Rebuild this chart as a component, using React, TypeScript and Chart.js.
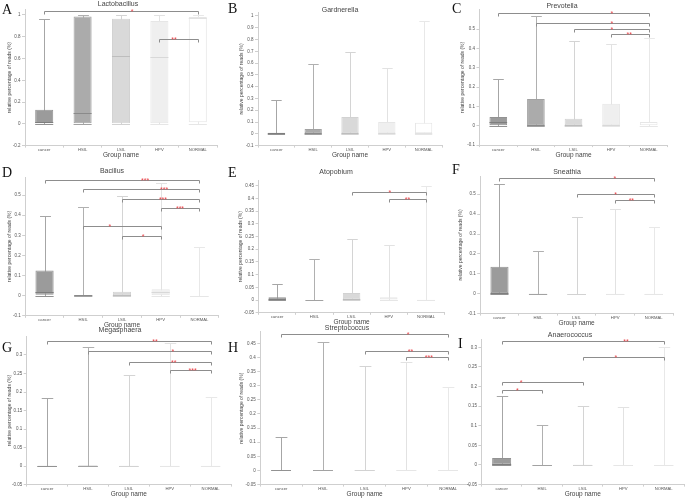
import React, { useEffect, useRef } from "react";
import { Chart, registerables } from "chart.js";
Chart.register(...registerables);

Chart.defaults.font.family = "'Liberation Sans', Arial, sans-serif";
Chart.defaults.color = "#555";

// ---------- data ----------
const groups = ["cancer", "HSIL", "LSIL", "HPV", "NORMAL"];
const lowerWhisker = [0, 0, 0, 0, 0];

const lactobacillusMax = [0.96, 1.0, 1.0, 1.0, 1.0];
const lactobacillusQ3 = [0.13, 0.985, 0.965, 0.945, 0.98];
const lactobacillusMedian = [0.015, 0.1, 0.625, 0.61, 0.975];
const lactobacillusQ1 = [0.0, 0.0, 0.005, 0.005, 0.015];
const lactobacillusTicks = [-0.2, 0, 0.2, 0.4, 0.6, 0.8, 1];

const gardnerellaMax = [0.283, 0.594, 0.693, 0.557, 0.96];
const gardnerellaQ3 = [0.01, 0.04, 0.143, 0.1, 0.093];
const gardnerellaMedian = [0.005, 0.005, 0.005, 0.01, 0.003];
const gardnerellaQ1 = [0, 0, 0, 0, 0];
const gardnerellaTicks = [-0.1, 0, 0.1, 0.2, 0.3, 0.4, 0.5, 0.6, 0.7, 0.8, 0.9, 1];

const prevotellaMax = [0.243, 0.567, 0.438, 0.422, 0.455];
const prevotellaQ3 = [0.045, 0.138, 0.036, 0.114, 0.02];
const prevotellaMedian = [0.017, 0.003, 0.005, 0.003, 0.001];
const prevotellaQ1 = [0.002, 0, 0, 0, 0];
const prevotellaTicks = [-0.1, 0, 0.1, 0.2, 0.3, 0.4, 0.5];

const bacillusMax = [0.397, 0.442, 0.495, 0.558, 0.24];
const bacillusQ3 = [0.125, 0.003, 0.019, 0.032, 0.002];
const bacillusMedian = [0.016, 0.001, 0.005, 0.016, 0];
const bacillusQ1 = [0.005, 0, 0, 0.002, 0];
const bacillusTicks = [-0.1, 0, 0.1, 0.2, 0.3, 0.4, 0.5];

const atopobiumMax = [0.062, 0.16, 0.239, 0.215, 0.45];
const atopobiumQ3 = [0.011, 0.002, 0.028, 0.011, 0.001];
const atopobiumMedian = [0.005, 0, 0.003, 0.002, 0];
const atopobiumQ1 = [0, 0, 0.001, 0, 0];
const atopobiumTicks = [-0.05, 0, 0.05, 0.1, 0.15, 0.2, 0.25, 0.3, 0.35, 0.4, 0.45];

const sneathiaMax = [0.553, 0.217, 0.385, 0.428, 0.336];
const sneathiaQ3 = [0.136, 0.001, 0.002, 0.001, 0.001];
const sneathiaMedian = [0.002, 0, 0, 0, 0];
const sneathiaQ1 = [0, 0, 0, 0, 0];
const sneathiaTicks = [-0.1, 0, 0.1, 0.2, 0.3, 0.4, 0.5];

const megasphaeraMax = [0.184, 0.321, 0.245, 0.331, 0.186];
const megasphaeraQ3 = [0.001, 0.003, 0.001, 0.001, 0.001];
const megasphaeraMedian = [0, 0.001, 0, 0, 0];
const megasphaeraQ1 = [0, 0, 0, 0, 0];
const megasphaeraTicks = [-0.05, 0, 0.05, 0.1, 0.15, 0.2, 0.25, 0.3];

const streptococcusMax = [0.12, 0.456, 0.37, 0.385, 0.295];
const streptococcusQ3 = [0.002, 0.001, 0.002, 0.001, 0.001];
const streptococcusMedian = [0, 0, 0, 0, 0];
const streptococcusQ1 = [0, 0, 0, 0, 0];
const streptococcusTicks = [-0.05, 0, 0.05, 0.1, 0.15, 0.2, 0.25, 0.3, 0.35, 0.4, 0.45];

const anaerococcusMax = [0.176, 0.103, 0.15, 0.149, 0.3];
const anaerococcusQ3 = [0.018, 0.001, 0.002, 0.001, 0.001];
const anaerococcusMedian = [0.003, 0, 0, 0, 0];
const anaerococcusQ1 = [0, 0, 0, 0, 0];
const anaerococcusTicks = [-0.05, 0, 0.05, 0.1, 0.15, 0.2, 0.25, 0.3];

// significance brackets: [fromGroup, toGroup, value, stars, starPosition(in group units)]
const lactobacillusSig = [[0, 4, 1.037, "*", 2.29], [3, 4, 0.78, "**", 3.38]];
const gardnerellaSig: any[] = [];
const prevotellaSig = [[0, 4, 0.581, "*", 3.02], [1, 4, 0.529, "*", 3.02], [2, 4, 0.498, "*", 3.02], [3, 4, 0.472, "**", 3.48]];
const bacillusSig = [[0, 4, 0.575, "***", 2.6], [1, 4, 0.528, "***", 3.09], [2, 4, 0.479, "***", 3.06], [3, 4, 0.437, "***", 3.5], [1, 3, 0.347, "*", 1.69], [2, 3, 0.296, "*", 2.55]];
const atopobiumSig = [[2, 4, 0.426, "*", 3.03], [3, 4, 0.399, "**", 3.5]];
const sneathiaSig = [[0, 4, 0.58, "*", 2.99], [2, 4, 0.5, "*", 3.01], [3, 4, 0.473, "**", 3.42]];
const megasphaeraSig = [[0, 4, 0.338, "**", 2.64], [1, 4, 0.31, "*", 3.08], [2, 4, 0.281, "**", 3.1], [3, 4, 0.259, "***", 3.56]];
const streptococcusSig = [[0, 4, 0.483, "*", 3.04], [2, 4, 0.423, "**", 3.1], [3, 4, 0.402, "***", 3.54]];
const anaerococcusSig = [[0, 4, 0.317, "**", 3.07], [2, 4, 0.275, "*", 2.82], [0, 2, 0.211, "*", 0.48], [0, 1, 0.19, "*", 0.39]];

// ---------- styles ----------
const boxFill = ["#9b9b9b", "#ababab", "#d9d9d9", "#efefef", "#ffffff"];
const boxLine = ["#929292", "#a2a2a2", "#d2d2d2", "#e6e6e6", "#e6e6e6"];
const whiskerColor = ["#a6a6a6", "#b0b0b0", "#d4d4d4", "#e2e2e2", "#e8e8e8"];
const medianColor = ["#7e7e7e", "#8a8a8a", "#bdbdbd", "#d8d8d8", "#e2e2e2"];

type Spec = {
  letter: string; title: string; titleX: number; titleY: number; letterX: number; letterY: number;
  L: number; R: number; B: number; ppu: number; yMin: number; yMax: number; yTitleX: number | null; xTitleY: number;
  q1: number[]; median: number[]; q3: number[]; max: number[]; ticks: number[]; sig: any[];
};

const panels: Spec[] = [
  { letter: "A", title: "Lactobacillus", titleX: 118, titleY: 3, letterX: 2, letterY: 3, L: 25, R: 217, B: 146, ppu: 109.2, yMin: -0.2, yMax: 1.05, yTitleX: 10, xTitleY: 155.5,
    q1: lactobacillusQ1, median: lactobacillusMedian, q3: lactobacillusQ3, max: lactobacillusMax, ticks: lactobacillusTicks, sig: lactobacillusSig },
  { letter: "B", title: "Gardnerella", titleX: 340, titleY: 9, letterX: 228, letterY: 2, L: 258, R: 442, B: 146, ppu: 118.2, yMin: -0.1, yMax: 1.03, yTitleX: 242, xTitleY: 155.5,
    q1: gardnerellaQ1, median: gardnerellaMedian, q3: gardnerellaQ3, max: gardnerellaMax, ticks: gardnerellaTicks, sig: gardnerellaSig },
  { letter: "C", title: "Prevotella", titleX: 562, titleY: 5, letterX: 452, letterY: 2, L: 479.5, R: 667.5, B: 145, ppu: 193.3, yMin: -0.1, yMax: 0.6, yTitleX: 463, xTitleY: 155,
    q1: prevotellaQ1, median: prevotellaMedian, q3: prevotellaQ3, max: prevotellaMax, ticks: prevotellaTicks, sig: prevotellaSig },
  { letter: "D", title: "Bacillus", titleX: 112, titleY: 170, letterX: 2, letterY: 166, L: 25.2, R: 218.7, B: 315.7, ppu: 201, yMin: -0.1, yMax: 0.59, yTitleX: 10, xTitleY: 325,
    q1: bacillusQ1, median: bacillusMedian, q3: bacillusQ3, max: bacillusMax, ticks: bacillusTicks, sig: bacillusSig },
  { letter: "E", title: "Atopobium", titleX: 336, titleY: 171, letterX: 228, letterY: 166, L: 258.6, R: 444.6, B: 312.7, ppu: 254, yMin: -0.05, yMax: 0.47, yTitleX: 241, xTitleY: 322,
    q1: atopobiumQ1, median: atopobiumMedian, q3: atopobiumQ3, max: atopobiumMax, ticks: atopobiumTicks, sig: atopobiumSig },
  { letter: "F", title: "Sneathia", titleX: 567, titleY: 171, letterX: 452, letterY: 163, L: 480.2, R: 673, B: 314, ppu: 199.5, yMin: -0.1, yMax: 0.59, yTitleX: 461, xTitleY: 323.5,
    q1: sneathiaQ1, median: sneathiaMedian, q3: sneathiaQ3, max: sneathiaMax, ticks: sneathiaTicks, sig: sneathiaSig },
  { letter: "G", title: "Megasphaera", titleX: 120, titleY: 329, letterX: 2, letterY: 341, L: 26.7, R: 231, B: 485, ppu: 371.4, yMin: -0.05, yMax: 0.35, yTitleX: 10, xTitleY: 494.5,
    q1: megasphaeraQ1, median: megasphaeraMedian, q3: megasphaeraQ3, max: megasphaeraMax, ticks: megasphaeraTicks, sig: megasphaeraSig },
  { letter: "H", title: "Streptococcus", titleX: 347, titleY: 327, letterX: 228, letterY: 341, L: 260.3, R: 469, B: 485, ppu: 283.4, yMin: -0.05, yMax: 0.49, yTitleX: 242, xTitleY: 494.5,
    q1: streptococcusQ1, median: streptococcusMedian, q3: streptococcusQ3, max: streptococcusMax, ticks: streptococcusTicks, sig: streptococcusSig },
  { letter: "I", title: "Anaerococcus", titleX: 570, titleY: 334, letterX: 458, letterY: 337, L: 481.4, R: 684, B: 485, ppu: 393.4, yMin: -0.05, yMax: 0.32, yTitleX: null, xTitleY: 494.5,
    q1: anaerococcusQ1, median: anaerococcusMedian, q3: anaerococcusQ3, max: anaerococcusMax, ticks: anaerococcusTicks, sig: anaerococcusSig },
];

const boxPlotPlugin = {
  id: "boxPlot",
  beforeDatasetsDraw(chart: any) {
    const o = chart.options.plugins.boxPlot;
    if (!o) return;
    const meta = chart.getDatasetMeta(0);
    const y = chart.scales.y;
    const ctx = chart.ctx;
    ctx.save();
    ctx.lineWidth = 1;
    meta.data.forEach((el: any, i: number) => {
      const x = Math.round(el.x) + 0.5;
      const w = el.width;
      const yLo = Math.round(y.getPixelForValue(o.min[i])) + 0.5;
      const yHi = Math.round(y.getPixelForValue(o.max[i])) + 0.5;
      ctx.strokeStyle = whiskerColor[i];
      ctx.beginPath();
      ctx.moveTo(x, yLo);
      ctx.lineTo(x, yHi);
      ctx.moveTo(x - w * 0.3, yHi);
      ctx.lineTo(x + w * 0.3, yHi);
      ctx.stroke();
    });
    ctx.restore();
  },
  afterDatasetsDraw(chart: any) {
    const o = chart.options.plugins.boxPlot;
    if (!o) return;
    const meta = chart.getDatasetMeta(0);
    const y = chart.scales.y;
    const xs = chart.scales.x;
    const ctx = chart.ctx;
    ctx.save();
    meta.data.forEach((el: any, i: number) => {
      const w = el.width;
      const ym = Math.round(y.getPixelForValue(o.median[i])) + 0.5;
      ctx.strokeStyle = medianColor[i];
      ctx.lineWidth = 1;
      ctx.beginPath();
      ctx.moveTo(el.x - w / 2, ym);
      ctx.lineTo(el.x + w / 2, ym);
      ctx.stroke();
      const yLo = Math.round(y.getPixelForValue(o.min[i])) + 0.5;
      ctx.strokeStyle = boxLine[i];
      ctx.beginPath();
      ctx.moveTo(el.x - w / 2, yLo);
      ctx.lineTo(el.x + w / 2, yLo);
      ctx.stroke();
    });
    // brackets
    o.sig.forEach((s: any) => {
      const [a, b, v, stars, pos] = s;
      const x1 = Math.round(xs.getPixelForValue(a)) + 0.5;
      const x2 = Math.round(xs.getPixelForValue(b)) + 0.5;
      const yy = Math.round(y.getPixelForValue(v)) + 0.5;
      ctx.strokeStyle = "#8d8d8d";
      ctx.lineWidth = 1;
      ctx.beginPath();
      ctx.moveTo(x1, yy + 3);
      ctx.lineTo(x1, yy);
      ctx.lineTo(x2, yy);
      ctx.lineTo(x2, yy + 3);
      ctx.stroke();
      ctx.fillStyle = "#e8444a";
      ctx.font = "7px 'Liberation Sans', Arial, sans-serif";
      ctx.textAlign = "center";
      ctx.textBaseline = "alphabetic";
      ctx.fillText(stars, xs.getPixelForValue(pos), yy + 2);
    });
    ctx.restore();
  },
};

const Y_TITLE_SIZE = 5;
const X_TITLE_SIZE = 6.5;

function Panel({ spec }: { spec: Spec }) {
  const ref = useRef<HTMLCanvasElement>(null);
  const yLH = Y_TITLE_SIZE * 1.2;
  const xLH = X_TITLE_SIZE * 1.2;
  const cx = spec.yTitleX !== null ? Math.round(spec.yTitleX - yLH / 2) : Math.round(spec.L - 20);
  const T = spec.B - (spec.yMax - spec.yMin) * spec.ppu;
  const cy = Math.floor(T - 8);
  const bottom = spec.xTitleY + xLH / 2;
  const ch = Math.round(bottom - cy);
  const cw = Math.ceil(spec.R + 4 - cx);
  useEffect(() => {
    const chart = new Chart(ref.current as HTMLCanvasElement, {
      type: "bar",
      data: {
        labels: groups,
        datasets: [
          {
            data: groups.map((_, i) => [spec.q1[i], spec.q3[i]]) as any,
            backgroundColor: boxFill,
            borderColor: boxLine,
            borderWidth: 1,
            borderSkipped: false,
            barPercentage: 0.47,
            categoryPercentage: 1,
          },
        ],
      },
      options: {
        animation: false,
        responsive: false,
        events: [],
        layout: { padding: { top: T - cy, right: cx + cw - spec.R, left: 0, bottom: 0 } },
        plugins: {
          legend: { display: false },
          tooltip: { enabled: false },
          title: { display: false },
          boxPlot: { min: lowerWhisker, median: spec.median, max: spec.max, sig: spec.sig },
        } as any,
        scales: {
          x: {
            offset: true,
            grid: { display: true, drawOnChartArea: false, drawTicks: true, tickLength: 2, offset: true, color: "#cfcfcf" },
            border: { display: true, color: "#cfcfcf" },
            ticks: { font: { size: 4.2 }, padding: 0, autoSkip: false, maxRotation: 0, color: "#555" },
            title: { display: true, text: "Group name", font: { size: X_TITLE_SIZE }, padding: 0, color: "#444" },
            afterFit: (s: any) => { s.height = bottom - spec.B; },
          },
          y: {
            min: spec.yMin,
            max: spec.yMax,
            afterBuildTicks: (s: any) => { s.ticks = spec.ticks.map((v) => ({ value: v })); },
            grid: { display: true, drawOnChartArea: false, drawTicks: true, tickLength: 3, color: "#cfcfcf" },
            border: { display: true, color: "#cfcfcf" },
            ticks: { font: { size: 4.5 }, padding: 1.5, color: "#555", callback: (v: any) => String(Number(Number(v).toFixed(2))) },
            title: { display: spec.yTitleX !== null, text: "relative percentage of reads (%)", font: { size: Y_TITLE_SIZE }, padding: 0, color: "#444" },
            afterFit: (s: any) => { s.width = spec.L - cx; },
          },
        },
      },
      plugins: [boxPlotPlugin],
    });
    return () => chart.destroy();
  }, []);
  return (
    <canvas
      ref={ref}
      width={cw}
      height={ch}
      style={{ position: "absolute", left: cx, top: cy, width: cw, height: ch }}
    />
  );
}

export default function App() {
  return (
    <div style={{ position: "absolute", left: 0, top: 0, width: 685, height: 499, background: "#fff", overflow: "hidden" }}>
      {panels.map((p) => (
        <Panel key={p.letter} spec={p} />
      ))}
      {panels.map((p) => (
        <div
          key={"t" + p.letter}
          style={{
            position: "absolute", left: p.titleX, top: p.titleY, transform: "translate(-50%, -50%)",
            font: "7px 'Liberation Sans', Arial, sans-serif", color: "#444", whiteSpace: "nowrap", lineHeight: 1,
          }}
        >
          {p.title}
        </div>
      ))}
      {panels.map((p) => (
        <div
          key={"l" + p.letter}
          style={{
            position: "absolute", left: p.letterX, top: p.letterY,
            font: "14px 'Liberation Serif', 'DejaVu Serif', serif", color: "#111", lineHeight: 1,
          }}
        >
          {p.letter}
        </div>
      ))}
    </div>
  );
}
